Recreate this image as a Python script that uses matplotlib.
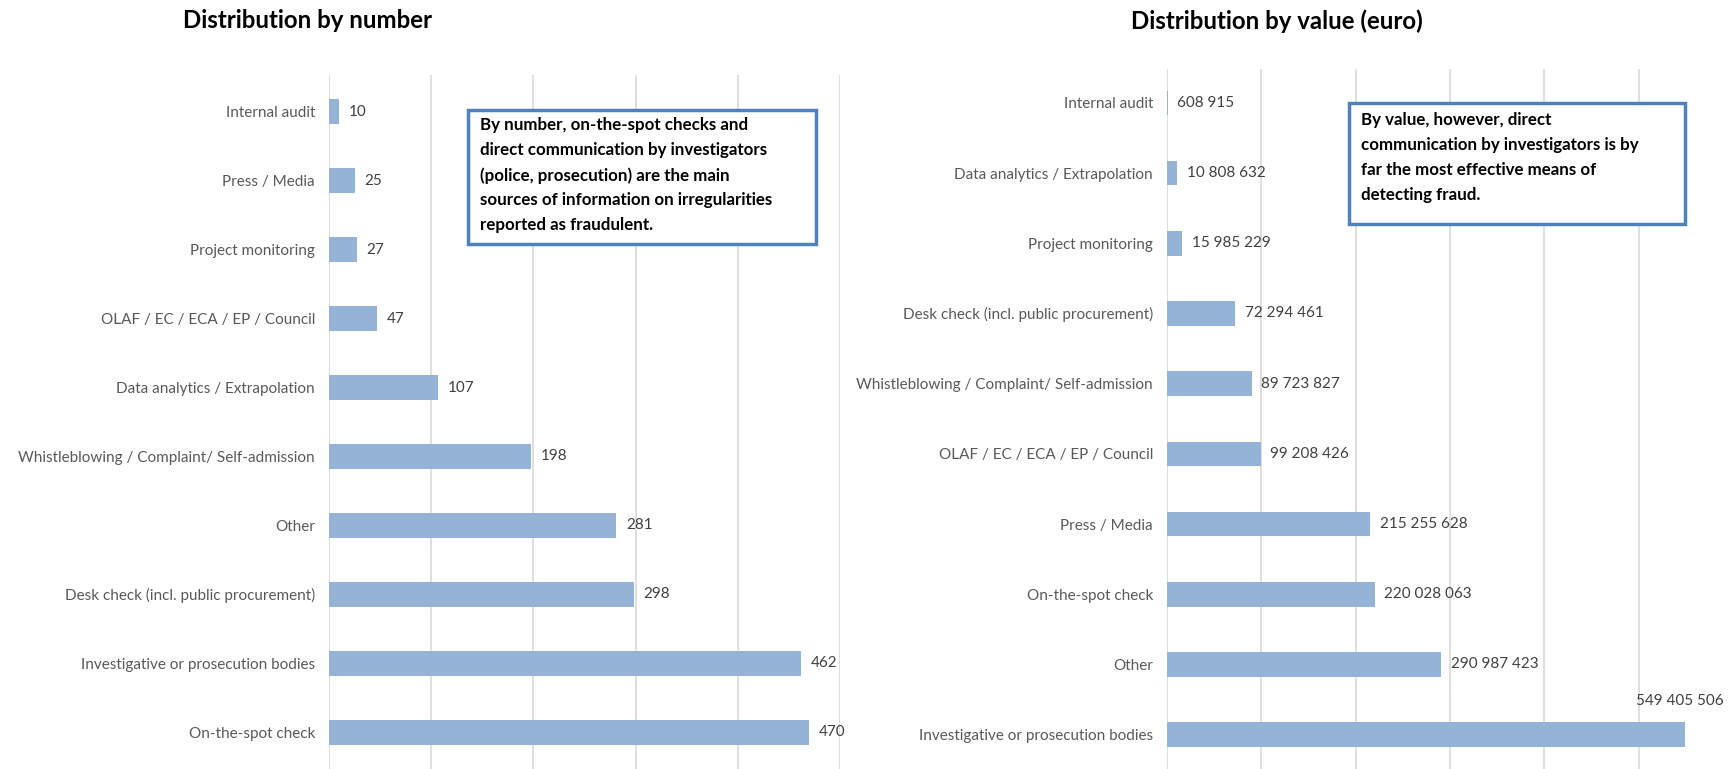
import matplotlib
matplotlib.use("Agg")
import matplotlib.pyplot as plt
from matplotlib.patches import Rectangle

plt.rcParams['font.family'] = ['Lato', 'DejaVu Sans']

num_categories = ["Internal audit", "Press / Media", "Project monitoring",
                  "OLAF / EC / ECA / EP / Council", "Data analytics / Extrapolation",
                  "Whistleblowing / Complaint/ Self-admission", "Other",
                  "Desk check (incl. public procurement)",
                  "Investigative or prosecution bodies", "On-the-spot check"]
num_values = [10, 25, 27, 47, 107, 198, 281, 298, 462, 470]

val_categories = ["Internal audit", "Data analytics / Extrapolation", "Project monitoring",
                  "Desk check (incl. public procurement)",
                  "Whistleblowing / Complaint/ Self-admission",
                  "OLAF / EC / ECA / EP / Council", "Press / Media",
                  "On-the-spot check", "Other", "Investigative or prosecution bodies"]
val_values = [608915, 10808632, 15985229, 72294461, 89723827, 99208426,
              215255628, 220028063, 290987423, 549405506]

title_left = "Distribution by number"
title_right = "Distribution by value (euro)"
note_left = ("By number, on-the-spot checks and\n"
             "direct communication by investigators\n"
             "(police, prosecution) are the main\n"
             "sources of information on irregularities\n"
             "reported as fraudulent.")
note_right = ("By value, however, direct\n"
              "communication by investigators is by\n"
              "far the most effective means of\n"
              "detecting fraud.")

BAR = "#95B3D7"
GRID = "#D9D9D9"
TICK = "#595959"
VAL = "#404040"
BOX = "#4F81BD"
FS = 11

W, H = 1733, 769
fig = plt.figure(figsize=(W / 100, H / 100), dpi=100)


def fmt_space(v):
    return f"{v:,}".replace(",", " ")


def setup(ax, cats, vals, xmax, step, top_pad):
    y = list(range(len(cats)))
    ax.barh(y, vals, height=0.35, color=BAR, zorder=3)
    ax.set_yticks(y)
    ax.set_yticklabels(cats, color=TICK, fontsize=FS)
    ax.tick_params(axis='y', length=0, pad=10)
    ax.set_xlim(0, xmax)
    ax.set_ylim(len(cats) - 1 + top_pad, -top_pad)
    ax.set_xticks([i * step for i in range(int(xmax / step) + 1)])
    ax.tick_params(axis='x', length=0, labelbottom=False)
    ax.grid(axis='x', color=GRID, linewidth=1.2, zorder=0)
    for s in ax.spines.values():
        s.set_visible(False)
    ax.set_facecolor('none')


# Left panel
axL = fig.add_axes([329 / W, 0, 511 / W, 1 - 75 / H])
setup(axL, num_categories, num_values, 500, 100, 0.53)
for i, v in enumerate(num_values):
    axL.annotate(str(v), (v, i), xytext=(7, 0), textcoords='offset points',
                 va='center', ha='left', color=VAL, fontsize=FS)

# Right panel
axR = fig.add_axes([1167 / W, 0, 566 / W, 1 - 68.5 / H])
setup(axR, val_categories, val_values, 600e6, 100e6, 0.49)
for i, v in enumerate(val_values):
    if i == len(val_values) - 1:
        axR.annotate(fmt_space(v), (v, i), xytext=(-4, 24), textcoords='offset points',
                     va='center', ha='center', color=VAL, fontsize=FS)
    else:
        axR.annotate(fmt_space(v), (v, i), xytext=(7, 0), textcoords='offset points',
                     va='center', ha='left', color=VAL, fontsize=FS)

# Titles
fig.text(308 / W, 1 - 21 / H, title_left, ha='center', va='center',
         fontsize=17.3, fontweight='bold', color='black')
fig.text(1277 / W, 1 - 21 / H, title_right, ha='center', va='center',
         fontsize=17.3, fontweight='bold', color='black')


def note_box(x0, y0, x1, y1, text, tx, ty):
    r = Rectangle((x0 / W, 1 - y1 / H), (x1 - x0) / W, (y1 - y0) / H,
                  transform=fig.transFigure, facecolor='white', edgecolor=BOX,
                  linewidth=2.5, zorder=10)
    fig.add_artist(r)
    fig.text(tx / W, 1 - ty / H, text, ha='left', va='top',
             fontsize=12.2, fontweight='bold', color='black', linespacing=1.68,
             zorder=11)


note_box(468, 110, 816, 244, note_left, 480, 117)
note_box(1349, 103, 1685, 224, note_right, 1361, 112)

fig.savefig("out.png", dpi=100)
